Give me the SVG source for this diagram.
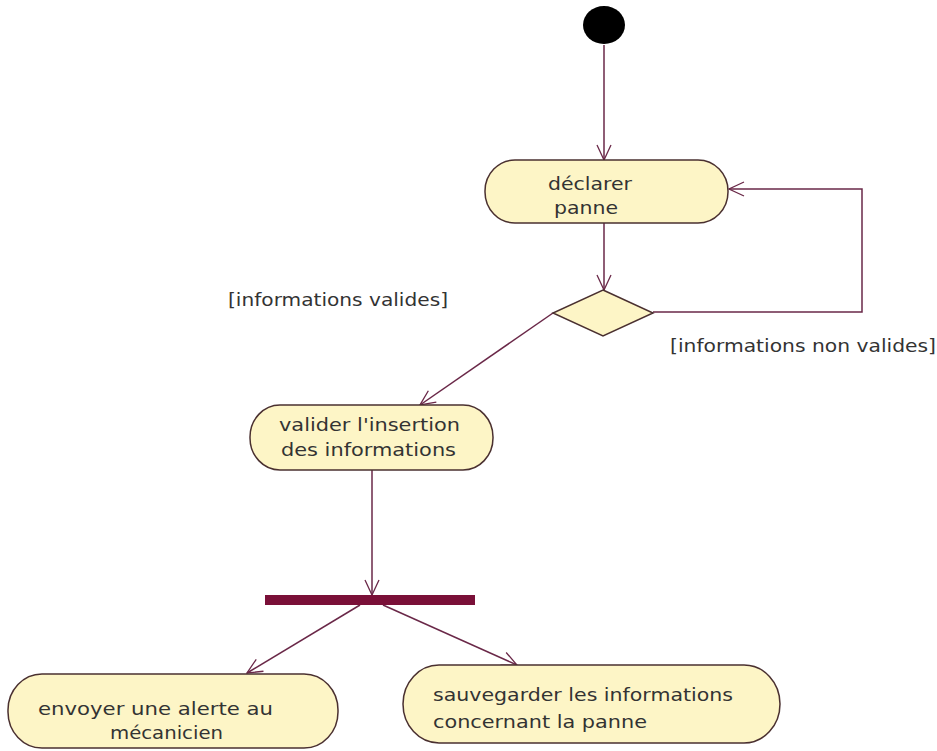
<svg xmlns="http://www.w3.org/2000/svg" width="937" height="751" viewBox="0 0 937 751">
<style>
.act{fill:#fdf5c6;stroke:#4a3030;stroke-width:1.5}
.t{font-family:"DejaVu Sans",Verdana,sans-serif;font-size:17px;fill:#333}
.c{fill:none;stroke:#6a2848;stroke-width:1.5}
</style>
<defs>
<marker id="arr" viewBox="0 0 20 20" refX="19" refY="10" markerWidth="20" markerHeight="20" markerUnits="userSpaceOnUse" orient="auto">
<path d="M4,3 L19,10 L4,17" fill="none" stroke="#6a2848" stroke-width="1.3"/>
</marker>
</defs>
<rect width="937" height="751" fill="#fff"/>
<g id="connectors">
<line class="c" x1="604" y1="45" x2="604" y2="160" marker-end="url(#arr)"/>
<line class="c" x1="604" y1="223" x2="604" y2="290" marker-end="url(#arr)"/>
<polyline class="c" points="653,312 862,312 862,189 729,189" marker-end="url(#arr)"/>
<line class="c" x1="553" y1="313" x2="420" y2="405" marker-end="url(#arr)"/>
<line class="c" x1="372" y1="470" x2="372" y2="595" marker-end="url(#arr)"/>
<line class="c" x1="360" y1="605" x2="247" y2="673" marker-end="url(#arr)"/>
<line class="c" x1="383" y1="605" x2="517" y2="665" marker-end="url(#arr)"/>
</g>
<g id="start"><ellipse cx="604" cy="25" rx="21" ry="19" fill="#000"/></g>
<g id="declarer">
<rect class="act" x="485" y="160" width="243" height="63" rx="30" ry="31"/>
<text class="t" x="548" y="190" textLength="84" lengthAdjust="spacingAndGlyphs">déclarer</text>
<text class="t" x="554" y="214" textLength="64" lengthAdjust="spacingAndGlyphs">panne</text>
</g>
<g id="decision"><polygon class="act" points="603,290 653,313 603,336 553,313"/></g>
<g id="guard-valides"><text class="t" x="228" y="306" textLength="220" lengthAdjust="spacingAndGlyphs">[informations valides]</text></g>
<g id="guard-nonvalides"><text class="t" x="670" y="352" textLength="266" lengthAdjust="spacingAndGlyphs">[informations non valides]</text></g>
<g id="valider">
<rect class="act" x="250" y="405" width="243" height="65" rx="30" ry="32"/>
<text class="t" x="279" y="431" textLength="181" lengthAdjust="spacingAndGlyphs">valider l'insertion</text>
<text class="t" x="281" y="456" textLength="175" lengthAdjust="spacingAndGlyphs">des informations</text>
</g>
<g id="fork"><rect x="265" y="595" width="210" height="10" fill="#7a1038"/></g>
<g id="envoyer">
<rect class="act" x="8" y="674" width="330" height="74" rx="34" ry="36"/>
<text class="t" x="38" y="715" textLength="235" lengthAdjust="spacingAndGlyphs">envoyer une alerte au</text>
<text class="t" x="110" y="739" textLength="113" lengthAdjust="spacingAndGlyphs">mécanicien</text>
</g>
<g id="sauvegarder">
<rect class="act" x="403" y="665" width="377" height="78" rx="36" ry="39"/>
<text class="t" x="433" y="701" textLength="300" lengthAdjust="spacingAndGlyphs">sauvegarder les informations</text>
<text class="t" x="433" y="728" textLength="214" lengthAdjust="spacingAndGlyphs">concernant la panne</text>
</g>
</svg>
